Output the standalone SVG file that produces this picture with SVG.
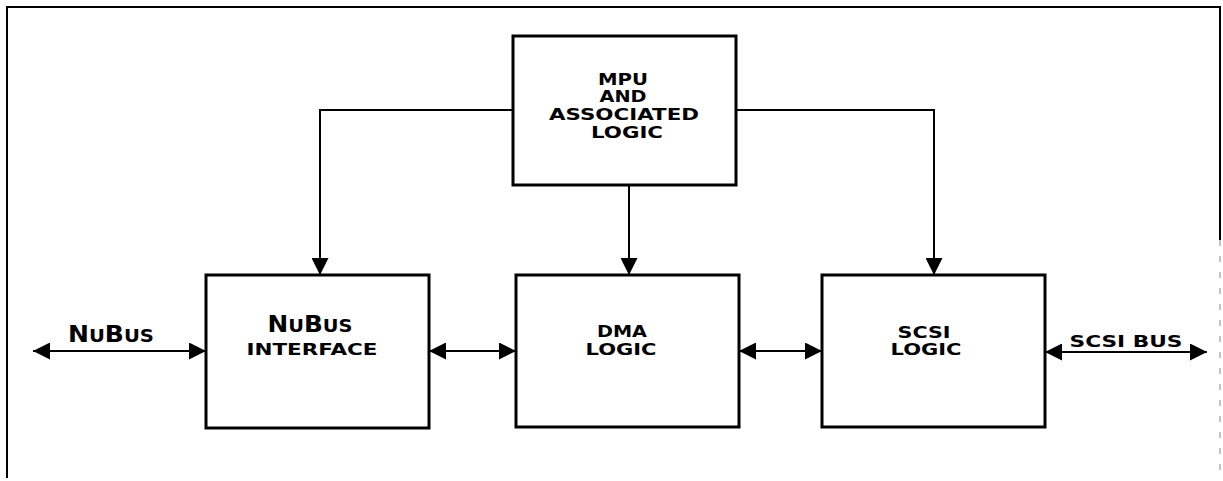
<svg xmlns="http://www.w3.org/2000/svg" width="1223" height="481" viewBox="0 0 1223 481">
  <defs>
    <marker id="head" viewBox="0 0 17 17" refX="17" refY="8.5" markerWidth="17" markerHeight="17" markerUnits="userSpaceOnUse" orient="auto-start-reverse">
      <path d="M0,0 L17,8.5 L0,17 Z" fill="#000"/>
    </marker>
    <style>
      .box { fill: #fff; stroke: #000; stroke-width: 3; }
      .wire { fill: none; stroke: #000; stroke-width: 2; }
      .frame { fill: none; stroke: #000; stroke-width: 2; }
      .lbl { font-family: "DejaVu Sans", "Liberation Sans", sans-serif; font-weight: bold; font-size: 16.5px; fill: #000; text-anchor: middle; }
      .big { font-size: 23px; }
      .sc { font-size: 18px; }
    </style>
  </defs>

  <rect width="1223" height="481" fill="#fff"/>

  <!-- page frame -->
  <g id="frame">
    <path class="frame" d="M7,478 L7,7 L1220,7 L1220,240"/>
    <path d="M1220,240 L1220,478" fill="none" stroke="#888" stroke-width="1" stroke-dasharray="6,10"/>
  </g>

  <!-- connectors -->
  <g id="connectors">
    <path class="wire" d="M513,110 L320,110 L320,275" marker-end="url(#head)"/>
    <path class="wire" d="M736,110 L934,110 L934,275" marker-end="url(#head)"/>
    <path class="wire" d="M629,185 L629,275" marker-end="url(#head)"/>
    <path class="wire" d="M33,351 L206,351" marker-start="url(#head)" marker-end="url(#head)"/>
    <path class="wire" d="M429,351 L516,351" marker-start="url(#head)" marker-end="url(#head)"/>
    <path class="wire" d="M739,351 L822,351" marker-start="url(#head)" marker-end="url(#head)"/>
    <path class="wire" d="M1045,352 L1207,352" marker-start="url(#head)" marker-end="url(#head)"/>
  </g>

  <!-- MPU -->
  <g id="mpu">
    <rect class="box" x="513" y="36" width="223" height="149"/>
    <text class="lbl" x="623" y="85" textLength="50" lengthAdjust="spacingAndGlyphs">MPU</text>
    <text class="lbl" x="623" y="102" textLength="47" lengthAdjust="spacingAndGlyphs">AND</text>
    <text class="lbl" x="624" y="120" textLength="150" lengthAdjust="spacingAndGlyphs">ASSOCIATED</text>
    <text class="lbl" x="627" y="138" textLength="72" lengthAdjust="spacingAndGlyphs">LOGIC</text>
  </g>

  <!-- NuBus interface -->
  <g id="nubus-interface">
    <rect class="box" x="206" y="275" width="223" height="153"/>
    <text class="lbl" x="310" y="332" textLength="85" lengthAdjust="spacingAndGlyphs"><tspan class="big">N</tspan><tspan class="sc">U</tspan><tspan class="big">B</tspan><tspan class="sc">US</tspan></text>
    <text class="lbl" x="312" y="355" textLength="131" lengthAdjust="spacingAndGlyphs">INTERFACE</text>
  </g>

  <!-- DMA -->
  <g id="dma">
    <rect class="box" x="516" y="275" width="223" height="152"/>
    <text class="lbl" x="622" y="337" textLength="50" lengthAdjust="spacingAndGlyphs">DMA</text>
    <text class="lbl" x="621" y="355" textLength="71" lengthAdjust="spacingAndGlyphs">LOGIC</text>
  </g>

  <!-- SCSI -->
  <g id="scsi">
    <rect class="box" x="822" y="275" width="223" height="152"/>
    <text class="lbl" x="924" y="338" textLength="53" lengthAdjust="spacingAndGlyphs">SCSI</text>
    <text class="lbl" x="926" y="355" textLength="71" lengthAdjust="spacingAndGlyphs">LOGIC</text>
  </g>

  <!-- bus labels -->
  <g id="nubus-label">
    <text class="lbl" x="111" y="342" textLength="86" lengthAdjust="spacingAndGlyphs"><tspan class="big">N</tspan><tspan class="sc">U</tspan><tspan class="big">B</tspan><tspan class="sc">US</tspan></text>
  </g>
  <g id="scsi-bus-label">
    <text class="lbl" x="1126" y="347" textLength="113" lengthAdjust="spacingAndGlyphs">SCSI BUS</text>
  </g>
</svg>
